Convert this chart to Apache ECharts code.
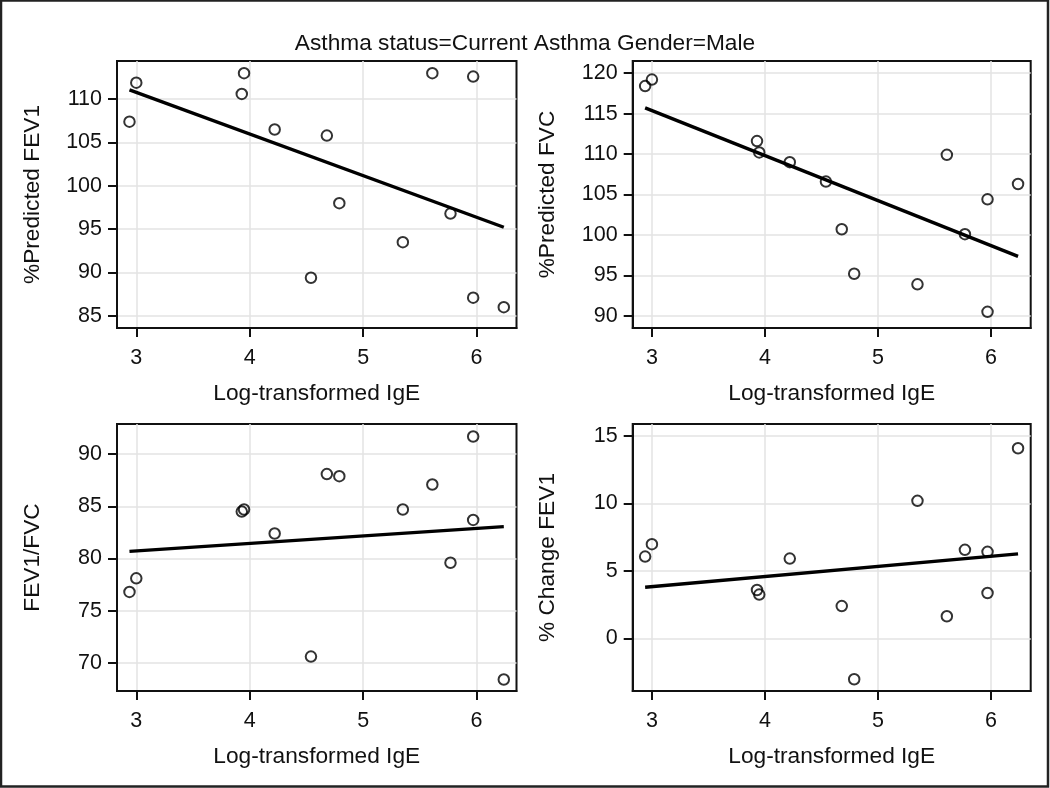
<!DOCTYPE html>
<html>
<head>
<meta charset="utf-8">
<script src="https://cdn.jsdelivr.net/npm/echarts/dist/echarts.min.js"></script>
<style>
html,body{margin:0;padding:0;background:#fff;}
#chart{width:1050px;height:788px;}
</style>
</head>
<body>
<div id="chart"></div>
<script>
// ---- data ----
const titleText = 'Asthma status=Current Asthma Gender=Male';
const xName = 'Log-transformed IgE';
const igeX = [2.94, 3.00, 3.93, 3.95, 4.22, 4.54, 4.68, 4.79, 5.35, 5.61, 5.77, 5.97, 5.97, 6.24];
const predFEV1 = [107.4, 111.9, 110.6, 113.0, 106.5, 89.4, 105.8, 98.0, 93.5, 113.0, 96.8, 112.6, 87.1, 86.0];
const predFVC = [118.4, 119.2, 111.6, 110.2, 109.0, 106.6, 100.7, 95.2, 93.9, 109.9, 100.1, 104.4, 90.5, 106.3];
const fev1fvc = [76.8, 78.1, 84.5, 84.7, 82.4, 70.6, 88.1, 87.9, 84.7, 87.1, 79.6, 91.7, 83.7, 68.4];
const changeFEV1 = [6.07, 6.99, 3.59, 3.25, 5.92, null, 2.40, -3.03, 10.2, 1.64, 6.57, 6.42, 3.37, 14.1];
// fitted line end points
const fitX = [2.94, 6.24];
const fitFEV1 = [111.08, 95.22];
const fitFVC = [115.7, 97.35];
const fitRatio = [80.69, 83.06];
const fitChange = [3.79, 6.27];
// tick labels
const xTicks = [3, 4, 5, 6];
const yTicksFEV1 = [85, 90, 95, 100, 105, 110];
const yTicksFVC = [90, 95, 100, 105, 110, 115, 120];
const yTicksRatio = [70, 75, 80, 85, 90];
const yTicksChange = [0, 5, 10, 15];
const yNames = ['%Predicted FEV1', '%Predicted FVC', 'FEV1/FVC', '% Change FEV1'];

// ---- layout ----
const FONT = '"Liberation Sans", Arial, sans-serif';
const panels = [
  {left: 117, top: 61, width: 399.5, height: 267, yMin: 83.6, yMax: 114.4, yTicks: yTicksFEV1, ys: predFEV1, fit: fitFEV1},
  {left: 632.7, top: 61, width: 398, height: 267, yMin: 88.5, yMax: 121.5, yTicks: yTicksFVC, ys: predFVC, fit: fitFVC},
  {left: 117, top: 424, width: 399.5, height: 267, yMin: 67.3, yMax: 92.9, yTicks: yTicksRatio, ys: fev1fvc, fit: fitRatio},
  {left: 632.7, top: 424, width: 398, height: 267, yMin: -3.9, yMax: 15.9, yTicks: yTicksChange, ys: changeFEV1, fit: fitChange}
];

const grid = [], xAxis = [], yAxis = [], series = [];
panels.forEach((p, i) => {
  grid.push({left: p.left, top: p.top, width: p.width, height: p.height,
    show: true, borderColor: '#111', borderWidth: 2, backgroundColor: 'transparent'});
  xAxis.push({
    type: 'value', gridIndex: i, min: 2.83, max: 6.352,
    name: xName, nameLocation: 'middle', nameGap: 54,
    nameTextStyle: {fontFamily: FONT, fontSize: 22.7, color: '#111'},
    axisLine: {show: true, onZero: false, lineStyle: {color: '#111', width: 2}},
    axisTick: {show: true, length: 9, inside: false, customValues: xTicks, lineStyle: {color: '#111', width: 2}},
    axisLabel: {customValues: xTicks, margin: 19, fontFamily: FONT, fontSize: 21.5, color: '#111'},
    splitLine: {show: true, lineStyle: {color: '#e3e3e3', width: 1.5}}
  });
  yAxis.push({
    type: 'value', gridIndex: i, min: p.yMin, max: p.yMax,
    name: yNames[i], nameLocation: 'middle', nameGap: 73,
    nameTextStyle: {fontFamily: FONT, fontSize: 22.7, color: '#111'},
    axisLine: {show: true, onZero: false, lineStyle: {color: '#111', width: 2}},
    axisTick: {show: true, length: 9, inside: false, customValues: p.yTicks, lineStyle: {color: '#111', width: 2}},
    axisLabel: {customValues: p.yTicks, margin: 15, fontFamily: FONT, fontSize: 21.5, color: '#111'},
    splitLine: {show: true, lineStyle: {color: '#e3e3e3', width: 1.5}}
  });
  series.push({
    type: 'line', xAxisIndex: i, yAxisIndex: i,
    data: fitX.map((x, k) => [x, p.fit[k]]),
    symbol: 'none', lineStyle: {color: '#000', width: 3.4}, silent: true, z: 2
  });
  series.push({
    type: 'scatter', xAxisIndex: i, yAxisIndex: i,
    data: igeX.map((x, k) => [x, p.ys[k]]).filter(d => d[1] !== null),
    symbol: 'circle', symbolSize: 10.5,
    itemStyle: {color: 'rgba(255,255,255,0)', borderColor: '#000', borderWidth: 2},
    silent: true, z: 3
  });
});

const chart = echarts.init(document.getElementById('chart'), null, {renderer: 'canvas'});
chart.setOption({
  animation: false,
  backgroundColor: '#fff',
  title: {text: titleText, left: 'center', top: 27,
    textStyle: {fontFamily: FONT, fontSize: 22.7, fontWeight: 'normal', color: '#111'}},
  graphic: [{type: 'rect', shape: {x: 1, y: 0.5, width: 1047, height: 786},
    style: {fill: 'none', stroke: '#222', lineWidth: 2.5}, silent: true}],
  grid, xAxis, yAxis, series
});
</script>
</body>
</html>
